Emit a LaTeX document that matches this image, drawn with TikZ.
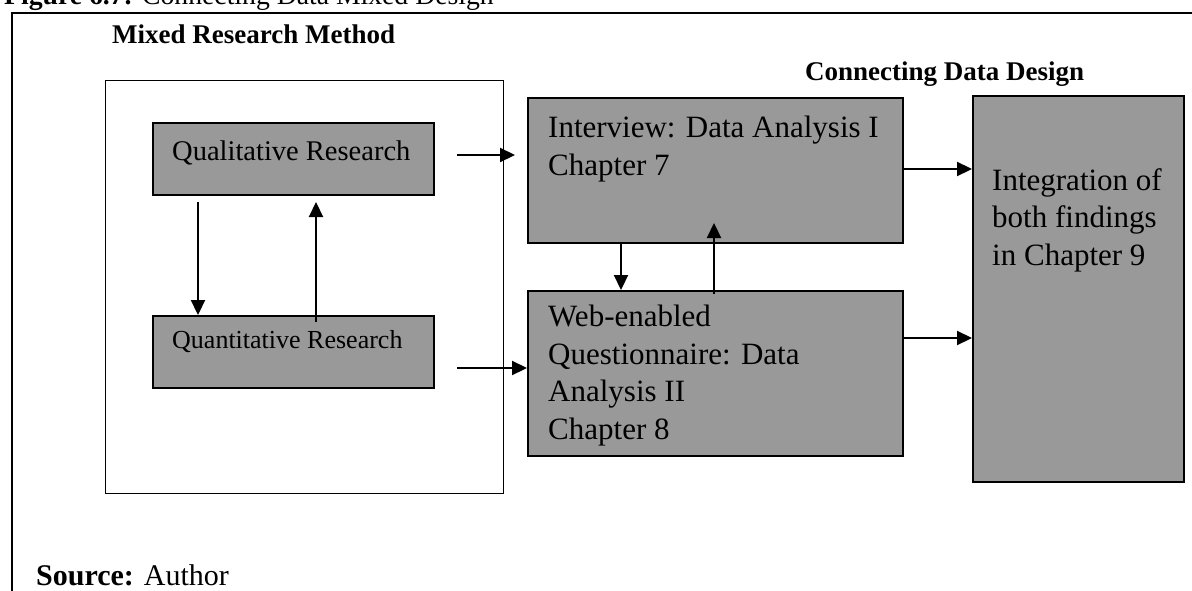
\documentclass[tikz,border=0pt]{standalone}
\usepackage{fontspec}
\setmainfont{Liberation Serif}
\usetikzlibrary{arrows.meta}
\definecolor{boxgray}{RGB}{153,153,153}
\begin{document}
\begin{tikzpicture}[x=1pt,y=-1pt,
  panel/.style={draw=black, fill=boxgray, line width=1.8pt, inner sep=0pt, anchor=north west},
  frame/.style={draw=black, line width=1.3pt, inner sep=0pt, anchor=north west},
  txt/.style={inner sep=0pt, anchor=base west, align=left},
  arr/.style={line width=2.2pt, -{Triangle[length=15pt,width=14pt]}},
  head/.style={inner sep=0pt, anchor=base west, font=\fontsize{27}{32}\selectfont\bfseries},
  body/.style={font=\fontsize{31}{37.5}\selectfont}]

\useasboundingbox (0,0) rectangle (1192,590);
\clip (0,0) rectangle (1192,590);

% outer figure frame (open to the right and bottom)
\draw[line width=1.8pt] (12,592) -- (12,13) -- (1194,13);

% caption and headings
\node[txt, font=\fontsize{27.7}{33}\selectfont] (cap) at (4,4) {\textbf{Figure 6.7:} Connecting Data Mixed Design};
\node[head] (mrm) at (112,43) {Mixed Research Method};
\node[head] (cdd) at (805,80) {Connecting Data Design};
\node[txt, font=\fontsize{30}{36}\selectfont] (src) at (36,585) {\textbf{Source:} Author};

% boxes
\node[frame, minimum width=398pt, minimum height=413pt] (method) at (105,80) {};
\node[panel, minimum width=281pt, minimum height=72pt] (qual) at (152,122) {};
\node[panel, minimum width=281pt, minimum height=72pt] (quant) at (152,315) {};
\node[panel, minimum width=375pt, minimum height=145pt] (int) at (527,97) {};
\node[panel, minimum width=375pt, minimum height=165pt] (web) at (527,290) {};
\node[panel, minimum width=211pt, minimum height=386pt] (integ) at (972,95) {};

% box texts (multi-line nodes are placed by the baseline of their last line)
\node[txt, font=\fontsize{28.5}{34}\selectfont] (qualt) at (172,160) {Qualitative Research};
\node[txt, font=\fontsize{26}{31}\selectfont] (quantt) at (172,348) {Quantitative Research};
\node[txt, body] (intt) at (548,175) {Interview: Data Analysis I\\Chapter 7};
\node[txt, body] (webt) at (548,439) {Web-enabled\\Questionnaire: Data\\Analysis II\\Chapter 8};
\node[txt, body] (integt) at (992,265) {Integration of\\both findings\\in Chapter 9};

% connectors inside the mixed research method box
\coordinate (qd) at (198,202);
\coordinate (qu) at (316,322);
\coordinate (qut) at (316,202);
\draw[arr] (qd) -- (qd |- quant.north);
\draw[arr] (qu) -- (qut);

% connectors towards the analysis chapters
\coordinate (ra) at (457,155);
\coordinate (rat) at (515,155);
\coordinate (rb) at (457,368);
\draw[arr] (ra) -- (rat);
\draw[arr] (rb) -- (rb -| web.west);

% connectors between the two analysis chapters
\coordinate (cd) at (621,0);
\coordinate (cu) at (714,294);
\coordinate (cut) at (714,223);
\draw[arr] (cd |- int.south) -- (cd |- web.north);
\draw[arr] (cu) -- (cut);

% connectors towards the integration chapter
\coordinate (ya) at (0,169);
\coordinate (yb) at (0,338);
\draw[arr] (int.east |- ya) -- (integ.west |- ya);
\draw[arr] (web.east |- yb) -- (integ.west |- yb);
\end{tikzpicture}
\end{document}
